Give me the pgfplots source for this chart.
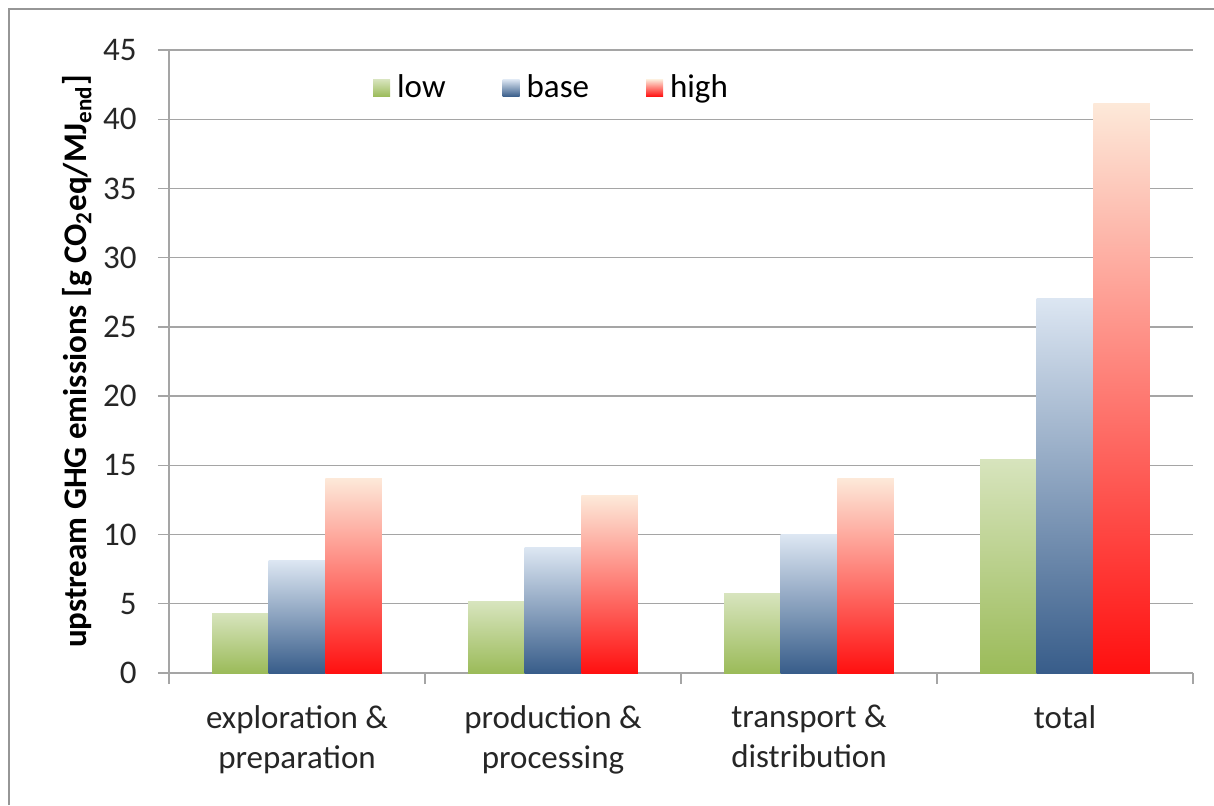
\documentclass[border=0pt]{standalone}
\usepackage{pgfplots}
\pgfplotsset{compat=1.18}
\usepackage{fontspec}
\setmainfont{Carlito}
\definecolor{gridc}{RGB}{165,165,165}
\definecolor{framec}{RGB}{150,150,150}
\definecolor{lowB}{RGB}{155,187,89}
\definecolor{lowT}{RGB}{215,228,189}
\definecolor{baseB}{RGB}{56,93,138}
\definecolor{baseT}{RGB}{220,230,242}
\definecolor{highB}{RGB}{255,16,16}
\definecolor{highT}{RGB}{253,233,217}
\pgfplotsset{
  lowst/.style={draw=none, bottom color=lowB, top color=lowT, bar shift=-0.221},
  basest/.style={draw=none, bottom color=baseB, top color=baseT, bar shift=0},
  highst/.style={draw=none, bottom color=highB, top color=highT, bar shift=0.221},
}
\begin{document}
\begin{tikzpicture}
\useasboundingbox (-84.5pt,-66pt) rectangle (522.5pt,336.5pt);
\draw[framec, line width=1.2pt] (-80pt,-66pt) -- (-80pt,332pt) -- (522.5pt,332pt);
\begin{axis}[
  scale only axis,
  width=512pt, height=311.5pt,
  xmin=0.5, xmax=4.5, ymin=0, ymax=45,
  axis lines=left,
  axis line style={-, gridc, line width=0.7pt},
  ymajorgrids,
  grid style={gridc, line width=0.7pt},
  xtick={1,2,3,4},
  xticklabels={{exploration \&\\preparation},{production \&\\processing},{transport \&\\distribution},{total}},
  ytick={0,5,...,45},
  minor xtick={0.5,1.5,2.5,3.5,4.5},
  minor ytick={0,5,...,45},
  major tick length=0pt,
  minor tick length=5.5pt,
  tick style={gridc, line width=0.7pt},
  tick align=outside,
  tick pos=left,
  /pgf/number format/assume math mode=true,
  tick label style={font=\fontsize{16.5}{20}\selectfont, text=black!85},
  yticklabel style={inner sep=0pt, xshift=-16pt},
  xticklabel style={align=center, inner sep=0pt, yshift=-16pt, anchor=north},
  every axis y label/.style={at={(axis description cs:-0.0898,0.5)}, rotate=90, anchor=center},
  ylabel={\fontsize{16.5}{18}\selectfont\bfseries upstream GHG emissions [g CO\textsubscript{2}eq/MJ\textsubscript{end}]},
  ybar,
  bar width=0.221,
  legend columns=3,
  legend style={draw=none, fill=none, inner sep=0pt, anchor=west, at={(0.199,0.939)},
    font=\fontsize{16.5}{18}\selectfont,
    /tikz/every odd column/.append style={column sep=1.5pt},
    /tikz/every even column/.append style={column sep=26.5pt}},
  legend image code/.code={\path[#1] (0pt,-4.25pt) rectangle (8.5pt,4.25pt);},
]
% first category (with legend entries)
\addplot[lowst]  coordinates {(1,4.33)};
\addplot[basest] coordinates {(1,8.11)};
\addplot[highst] coordinates {(1,14.07)};
% remaining bars
\addplot[lowst, forget plot]  coordinates {(2,5.13)};
\addplot[lowst, forget plot]  coordinates {(3,5.71)};
\addplot[lowst, forget plot]  coordinates {(4,15.44)};
\addplot[basest, forget plot] coordinates {(2,9.03)};
\addplot[basest, forget plot] coordinates {(3,9.97)};
\addplot[basest, forget plot] coordinates {(4,27.07)};
\addplot[highst, forget plot] coordinates {(2,12.81)};
\addplot[highst, forget plot] coordinates {(3,14.07)};
\addplot[highst, forget plot] coordinates {(4,41.16)};
\legend{low,{base\hspace{1.5pt}},high}
\end{axis}
\end{tikzpicture}
\end{document}
